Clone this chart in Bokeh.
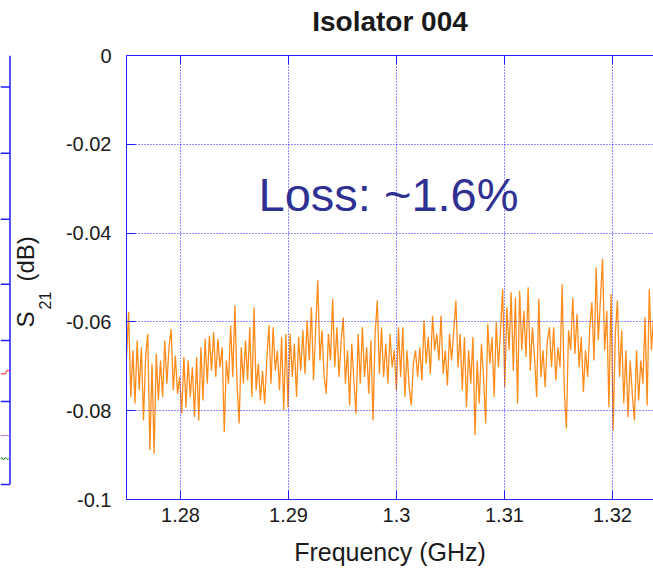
import numpy as np
from bokeh.plotting import figure
from bokeh.models import (Range1d, LinearAxis, FixedTicker, NumeralTickFormatter,
                          Label, Grid)
from bokeh.layouts import row
from bokeh.embed import file_html
from bokeh.resources import INLINE

# ---------------- data ----------------
title_text = "Isolator 004"
x_label = "Frequency (GHz)"
annotation_text = "Loss: ~1.6%"

x_ticks = [1.28, 1.29, 1.30, 1.31, 1.32]
y_ticks = [-0.1, -0.08, -0.06, -0.04, -0.02, 0.0]

freq_start, freq_stop, n_points = 1.275, 1.324, 250

# S21 in milli-dB
s21_mdb = [
    -68.0, -57.7, -76.9, -66.4, -78.4, -64.2, -75.4, -65.7, -82.2, -67.9,
    -62.7, -88.9, -69.4, -89.7, -67.2, -77.7, -68.7, -76.9, -64.2, -73.9,
    -65.7, -61.6, -75.4, -67.6, -76.2, -72.4, -80.7, -67.9, -79.2, -68.7,
    -76.9, -70.2, -81.4, -67.9, -82.2, -65.7, -77.7, -63.8, -73.9, -63.1,
    -71.0, -62.3, -72.4, -63.8, -70.2, -65.7, -84.8, -68.7, -73.9, -60.8,
    -72.4, -56.3, -73.9, -82.9, -65.7, -73.9, -64.2, -73.2, -61.2, -76.9,
    -56.7, -75.4, -69.4, -77.7, -71.0, -78.4, -68.7, -60.8, -73.9, -61.2,
    -71.0, -66.4, -75.4, -63.4, -79.9, -62.7, -79.2, -62.7, -72.4, -64.9,
    -76.9, -63.4, -71.0, -61.9, -71.7, -59.7, -68.7, -56.7, -73.2, -61.9,
    -50.6, -68.7, -61.9, -72.4, -76.2, -62.7, -68.7, -54.8, -70.2, -61.2,
    -72.4, -64.2, -59.0, -73.9, -66.4, -78.8, -64.9, -73.2, -80.7, -62.7,
    -73.9, -61.2, -72.4, -65.7, -76.2, -64.2, -82.2, -62.7, -55.2, -71.7,
    -61.2, -72.4, -64.9, -73.9, -62.7, -70.2, -66.4, -75.4, -61.2, -72.4,
    -61.2, -76.9, -66.4, -74.7, -78.8, -69.4, -66.4, -72.4, -65.7, -73.2,
    -59.7, -69.4, -63.4, -71.7, -58.6, -66.4, -62.7, -68.7, -58.6, -71.7,
    -66.4, -74.3, -62.7, -68.7, -61.9, -55.2, -70.2, -62.7, -75.4, -63.4,
    -79.2, -66.4, -73.9, -63.4, -85.5, -68.7, -78.4, -64.9, -72.4, -82.9,
    -60.4, -69.4, -63.4, -76.9, -60.1, -70.2, -61.9, -52.6, -74.7, -56.7,
    -66.4, -53.3, -71.0, -54.5, -78.4, -53.0, -66.4, -57.5, -67.9, -52.2,
    -71.0, -61.2, -67.9, -76.9, -54.8, -72.4, -66.4, -74.7, -64.2, -61.2,
    -70.2, -61.2, -73.2, -65.7, -70.2, -51.5, -75.4, -84.0, -61.9, -66.4,
    -54.5, -67.2, -58.2, -70.2, -63.4, -75.8, -66.4, -72.4, -61.2, -55.6,
    -68.7, -47.7, -64.2, -55.2, -45.8, -66.4, -57.5, -79.2, -53.7, -84.4,
    -62.7, -55.2, -72.4, -61.9, -78.4, -66.4, -81.4, -68.7, -76.2, -82.2,
    -66.4, -77.7, -68.7, -73.9, -59.0, -78.8, -52.6, -66.4, -59.0, -72.4,
]

# cropped neighbouring chart at the far left (its frame edge, ticks and trace stubs)
nb_edge_x = 9.5
nb_bottom = -0.0966
nb_ticks = [-0.0071, -0.0220, -0.0369, -0.0515, -0.0642, -0.0779]
nb_red_x, nb_red_y = [0.0, 5.0, 6.0, 9.0], [-0.0717, -0.0717, -0.0710, -0.0710]
nb_purple_x, nb_purple_y = [0.0, 9.0], [-0.0856, -0.0856]
nb_green_x = [0.0, 1.5, 3.0, 4.5, 6.0, 7.5, 9.0]
nb_green_y = [-0.0909, -0.0905, -0.0911, -0.0906, -0.0908, -0.0910, -0.0906]

freq = np.linspace(freq_start, freq_stop, n_points)
s21 = np.array(s21_mdb) / 1000.0

BLUE = "#1F1FFF"
ORANGE = "#FF8C1A"
TXT = "#1A1A1A"
FONT = "Liberation Sans"
TOP, BOTTOM = 55, 70
LEFT_W = 60

# ---------------- left strip: neighbour fragment + y-axis title ----------------
left = figure(width=LEFT_W, height=569, x_range=Range1d(0, LEFT_W), y_range=Range1d(-0.1, 0.0),
              output_backend="svg", toolbar_location=None,
              x_axis_location=None, y_axis_location=None,
              min_border_left=0, min_border_right=0, min_border_top=TOP,
              min_border_bottom=BOTTOM, outline_line_color=None,
              background_fill_color="white", border_fill_color="white")
left.grid.visible = False
left.line([nb_edge_x, nb_edge_x], [0.0, nb_bottom], line_color=BLUE, line_width=1.5)
left.line([0.0, nb_edge_x], [nb_bottom, nb_bottom], line_color=BLUE, line_width=1.5)
left.segment(x0=[0.0] * len(nb_ticks), y0=nb_ticks, x1=[nb_edge_x] * len(nb_ticks),
             y1=nb_ticks, line_color=BLUE, line_width=1.5)
left.line(nb_red_x, nb_red_y, line_color="#FF2020", line_width=1)
left.line(nb_purple_x, nb_purple_y, line_color="#C070E0", line_width=1)
left.line(nb_green_x, nb_green_y, line_color="#1E8C1E", line_width=1)

ang = np.pi / 2
left.add_layout(Label(x=25, y=-0.06126, text="S", angle=ang, text_align="left",
                      text_baseline="middle", text_font=FONT, text_font_size="24px",
                      text_color=TXT))
left.add_layout(Label(x=44, y=-0.05721, text="21", angle=ang, text_align="left",
                      text_baseline="middle", text_font=FONT, text_font_size="16px",
                      text_color=TXT))
left.add_layout(Label(x=25, y=-0.0509, text="(dB)", angle=ang, text_align="left",
                      text_baseline="middle", text_font=FONT, text_font_size="24px",
                      text_color=TXT))

# ---------------- main chart ----------------
p = figure(width=653 - LEFT_W, height=569, x_range=Range1d(1.275, 1.3238),
           y_range=Range1d(-0.1, 0.0),
           output_backend="svg", toolbar_location=None,
           x_axis_location=None, y_axis_location=None,
           min_border_left=126 - LEFT_W, min_border_right=0, min_border_top=TOP,
           min_border_bottom=BOTTOM,
           outline_line_color=None, background_fill_color="white", border_fill_color="white")
p.grid.visible = False

common = dict(major_tick_in=9, major_tick_out=0, minor_tick_in=0, minor_tick_out=0,
              axis_line_color=BLUE, major_tick_line_color=BLUE,
              major_label_text_font=FONT, major_label_text_color=TXT,
              major_label_text_font_size="20px",
              formatter=NumeralTickFormatter(format="0.[00]"))

yax = LinearAxis(ticker=FixedTicker(ticks=y_ticks), major_label_standoff=15, **common)
p.add_layout(yax, "left")
xax = LinearAxis(ticker=FixedTicker(ticks=x_ticks), major_label_standoff=8,
                 axis_label=x_label, axis_label_standoff=13,
                 axis_label_text_font=FONT, axis_label_text_font_size="25px",
                 axis_label_text_font_style="normal", axis_label_text_color=TXT, **common)
p.add_layout(xax, "below")
tax = LinearAxis(ticker=FixedTicker(ticks=x_ticks), major_tick_in=9, major_tick_out=0,
                 minor_tick_in=0, minor_tick_out=0, axis_line_color=BLUE,
                 major_tick_line_color=BLUE, major_label_standoff=0,
                 major_label_overrides={t: "" for t in x_ticks},
                 axis_label=title_text, axis_label_standoff=19,
                 axis_label_text_font=FONT, axis_label_text_font_size="28px",
                 axis_label_text_font_style="bold", axis_label_text_color=TXT)
p.add_layout(tax, "above")

p.line(freq, s21, line_color=ORANGE, line_width=1.3)

for dim, tks in ((0, x_ticks), (1, y_ticks)):
    p.add_layout(Grid(dimension=dim, ticker=FixedTicker(ticks=tks), grid_line_color=BLUE,
                      grid_line_dash="1 2", grid_line_width=1, level="guide"))

p.add_layout(Label(x=1.28723, y=-0.0312, text=annotation_text, text_align="left",
                   text_baseline="middle", text_font=FONT, text_font_size="47px",
                   text_color="#2E3192"))

layout = row(left, p, spacing=0)
open("out.html", "w").write(file_html(layout, INLINE))
